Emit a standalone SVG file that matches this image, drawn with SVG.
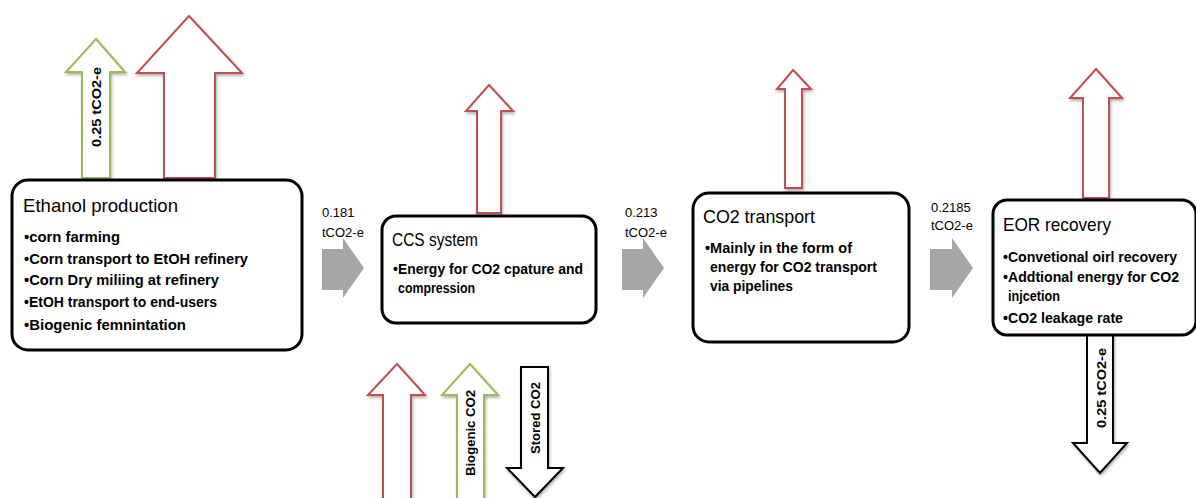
<svg xmlns="http://www.w3.org/2000/svg" width="1196" height="498" viewBox="0 0 1196 498">
<defs>
<filter id="sh" x="-20%" y="-20%" width="140%" height="140%">
<feDropShadow dx="1" dy="2" stdDeviation="1.5" flood-color="#000" flood-opacity="0.3"/>
</filter>
</defs>
<style>
.box{fill:#fff;stroke:#000;stroke-width:3}
.red{fill:#fff;stroke:#c0504d;stroke-width:2;filter:url(#sh)}
.grn{fill:#fff;stroke:#9bbb59;stroke-width:2;filter:url(#sh)}
.blk{fill:#fff;stroke:#000;stroke-width:2;filter:url(#sh)}
.gray{fill:#a6a6a6}
.title{font-family:"Liberation Sans",Arial,sans-serif;font-size:19px;fill:#000}
.bul{font-family:"Liberation Sans",Arial,sans-serif;font-size:14px;font-weight:bold;fill:#000}
.lbl{font-family:"Liberation Sans",Arial,sans-serif;font-size:13px;fill:#000}
.vt{font-family:"Liberation Sans",Arial,sans-serif;font-size:13.5px;font-weight:bold;fill:#000}
</style>
<g id="connectors">
<polygon class="red" points="189,16 242,73 215,73 215,178 164,178 164,73 137,73"/>
<polygon class="grn" points="96,39 125,72 110,72 110,178 82,178 82,72 66,72"/>
<polygon class="red" points="489,85 513,111 501,111 501,213 477,213 477,111 466,111"/>
<polygon class="red" points="793,70 811,89 802,89 802,188 785,188 785,89 777,89"/>
<polygon class="red" points="1096,69 1122,98 1109,98 1109,198 1083,198 1083,98 1070,98"/>
<polygon class="red" points="397,364 425,395 411,395 411,502 383,502 383,395 368,395"/>
<polygon class="grn" points="470,364 498,395 484,395 484,502 457,502 457,395 442,395"/>
<polygon class="blk" points="521,367 548,367 548,468 563,468 535,497 507,468 521,468"/>
<polygon class="blk" points="1087,335 1113,335 1113,443 1127,443 1100,473 1073,443 1087,443"/>
<polygon class="gray" points="322,249 343,249 343,238 364,268 343,298 343,290 322,290"/>
<polygon class="gray" points="622,249 643,249 643,238 664,268 643,298 643,290 622,290"/>
<polygon class="gray" points="930,249 952,249 952,238 973,268 952,298 952,290 930,290"/>
<text class="vt" transform="translate(101,107) rotate(-90)" text-anchor="middle" textLength="80" lengthAdjust="spacingAndGlyphs">0.25 tCO2-e</text>
<text class="vt" transform="translate(475,433) rotate(-90)" text-anchor="middle" textLength="86" lengthAdjust="spacingAndGlyphs">Biogenic CO2</text>
<text class="vt" transform="translate(540,418) rotate(-90)" text-anchor="middle" textLength="72" lengthAdjust="spacingAndGlyphs">Stored CO2</text>
<text class="vt" transform="translate(1106,388) rotate(-90)" text-anchor="middle" textLength="80" lengthAdjust="spacingAndGlyphs">0.25 tCO2-e</text>
<text class="lbl" x="322" y="217">0.181</text>
<text class="lbl" x="322" y="237">tCO2-e</text>
<text class="lbl" x="625" y="217">0.213</text>
<text class="lbl" x="625" y="237">tCO2-e</text>
<text class="lbl" x="931" y="212">0.2185</text>
<text class="lbl" x="931" y="230">tCO2-e</text>
</g>
<g id="ethanol">
<rect class="box" x="12" y="180" width="290" height="170" rx="16"/>
<text class="title" x="23" y="212" textLength="155" lengthAdjust="spacingAndGlyphs">Ethanol production</text>
<text class="bul" x="24" y="242" textLength="96" lengthAdjust="spacingAndGlyphs">•corn farming</text>
<text class="bul" x="24" y="264" textLength="224" lengthAdjust="spacingAndGlyphs">•Corn transport to EtOH refinery</text>
<text class="bul" x="24" y="285" textLength="195" lengthAdjust="spacingAndGlyphs">•Corn Dry miliing at refinery</text>
<text class="bul" x="24" y="307" textLength="193" lengthAdjust="spacingAndGlyphs">•EtOH transport to end-users</text>
<text class="bul" x="24" y="330" textLength="162" lengthAdjust="spacingAndGlyphs">•Biogenic femnintation</text>
</g>
<g id="ccs">
<rect class="box" x="382" y="216" width="214" height="107" rx="14"/>
<text class="title" x="392" y="246" textLength="86" lengthAdjust="spacingAndGlyphs">CCS system</text>
<text class="bul" x="393" y="274" textLength="190" lengthAdjust="spacingAndGlyphs">•Energy for CO2 cpature and</text>
<text class="bul" x="398" y="293" textLength="77" lengthAdjust="spacingAndGlyphs">compression</text>
</g>
<g id="transport">
<rect class="box" x="693" y="193" width="216" height="149" rx="16"/>
<text class="title" x="703" y="223" textLength="112" lengthAdjust="spacingAndGlyphs">CO2 transport</text>
<text class="bul" x="705" y="253" textLength="147" lengthAdjust="spacingAndGlyphs">•Mainly in the form of</text>
<text class="bul" x="710" y="272" textLength="167" lengthAdjust="spacingAndGlyphs">energy for CO2 transport</text>
<text class="bul" x="710" y="291" textLength="83" lengthAdjust="spacingAndGlyphs">via pipelines</text>
</g>
<g id="eor">
<rect class="box" x="993" y="200" width="203" height="135" rx="14"/>
<text class="title" x="1003" y="231" textLength="108" lengthAdjust="spacingAndGlyphs">EOR recovery</text>
<text class="bul" x="1003" y="262" textLength="174" lengthAdjust="spacingAndGlyphs">•Convetional oirl recovery</text>
<text class="bul" x="1003" y="282" textLength="176" lengthAdjust="spacingAndGlyphs">•Addtional energy for CO2</text>
<text class="bul" x="1008" y="301" textLength="52" lengthAdjust="spacingAndGlyphs">injcetion</text>
<text class="bul" x="1003" y="323" textLength="120" lengthAdjust="spacingAndGlyphs">•CO2 leakage rate</text>
</g>
</svg>
